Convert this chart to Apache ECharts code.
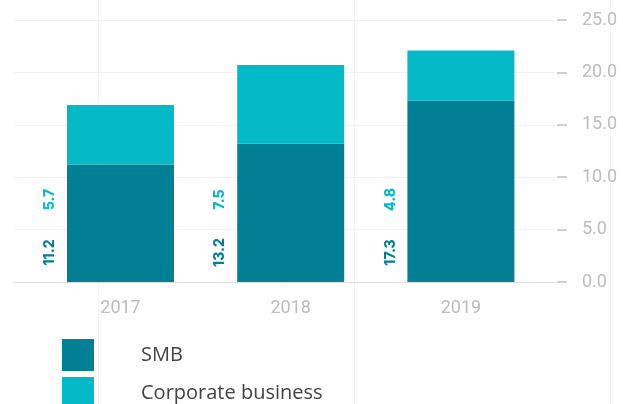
<!DOCTYPE html>
<html lang="en">
<head>
    <meta charset="UTF-8">
    <title>SMB and corporate business</title>
    <script src="https://cdn.jsdelivr.net/npm/echarts@6/dist/echarts.min.js"></script>
    <style>
        html, body { margin: 0; padding: 0; background: #fff; }
    </style>
</head>
<body>
    <div id="main" style="width:623px;height:404px;"></div>

    <script>
    // data
    var years = ['2017', '2018', '2019'];
    var smb = [11.2, 13.2, 17.3];
    var corporate = [5.7, 7.5, 4.8];
    var yTicks = [0, 5, 10, 15, 20, 25];

    var darkColor = '#007f95';
    var lightColor = '#04b9c8';
    var font = 'Roboto, "Noto Sans", sans-serif';

    var myChart = echarts.init(document.getElementById('main'));

    // one legend block per series, stacked (the second one runs off the bottom)
    function legendBlock(name, top) {
        return {
            data: [name],
            orient: 'vertical',
            left: 62, top: top,
            padding: 0,
            icon: 'rect',
            itemWidth: 32, itemHeight: 32,
            textStyle: {
                color: '#444', fontSize: 20, fontFamily: '"Open Sans", sans-serif',
                padding: [0, 0, 0, 42]
            }
        };
    }

    var valueText = { fontSize: 14, fontWeight: 800, fontFamily: 'Inter, "Open Sans", sans-serif' };

    myChart.setOption({
        animation: false,
        textStyle: { fontFamily: font },
        grid: [
            // background lines + right axis
            { left: 14, right: 68, top: 20, bottom: 122 },
            // bars
            { left: 35.4, right: 77, top: 20, bottom: 122 },
            // faint vertical page lines
            { left: 98, right: 13, top: 0, bottom: 0 }
        ],
        xAxis: [
            {
                gridIndex: 0, type: 'category', data: [''],
                axisLine: { show: true, lineStyle: { color: '#dddddd', width: 1 } },
                axisTick: { show: false }, axisLabel: { show: false }
            },
            {
                gridIndex: 1, type: 'category', data: years,
                axisLine: { show: false }, axisTick: { show: false },
                axisLabel: { color: '#bdbdbd', fontSize: 18, margin: 17 }
            },
            {
                gridIndex: 2, type: 'value', min: 0, max: 2, interval: 1,
                axisLine: { show: false }, axisTick: { show: false }, axisLabel: { show: false },
                splitLine: { show: true, lineStyle: { color: '#f3f3f3' } }
            }
        ],
        yAxis: [
            {
                gridIndex: 0, type: 'value', position: 'right', offset: 2,
                min: yTicks[0], max: yTicks[yTicks.length - 1], interval: 5,
                axisLine: { show: false },
                axisTick: { show: true, length: 10, lineStyle: { color: '#d0d0d0', width: 2 } },
                axisLabel: {
                    color: '#bdbdbd', fontSize: 18, margin: 25,
                    formatter: function (v) { return v.toFixed(1); }
                },
                splitLine: { show: true, lineStyle: { color: '#f2f2f2' } }
            },
            {
                gridIndex: 1, type: 'value', show: false,
                min: yTicks[0], max: yTicks[yTicks.length - 1]
            },
            { gridIndex: 2, type: 'value', show: false }
        ],
        legend: [
            legendBlock('SMB', 339),
            legendBlock('Corporate business', 377)
        ],
        series: [
            {
                name: 'SMB', type: 'bar', stack: 'total',
                xAxisIndex: 1, yAxisIndex: 1,
                barWidth: 107,
                itemStyle: { color: darkColor },
                data: smb,
                label: {
                    show: true,
                    position: [-17, '100%'],
                    // offset is applied in the rotated frame: +x here means up on screen
                    offset: [56, 0],
                    rotate: 90,
                    align: 'center',
                    verticalAlign: 'middle',
                    formatter: function (p) {
                        return '{a|' + smb[p.dataIndex].toFixed(1) + '}{g|}{b|' + corporate[p.dataIndex].toFixed(1) + '}';
                    },
                    rich: {
                        a: Object.assign({ width: 30, align: 'center', color: darkColor }, valueText),
                        g: { width: 23 },
                        b: Object.assign({ width: 30, align: 'center', color: lightColor }, valueText)
                    }
                }
            },
            {
                name: 'Corporate business', type: 'bar', stack: 'total',
                xAxisIndex: 1, yAxisIndex: 1,
                barWidth: 107,
                itemStyle: { color: lightColor },
                data: corporate
            }
        ]
    });

    window.onresize = function () {
        myChart.resize();
    };
    </script>
</body>
</html>
